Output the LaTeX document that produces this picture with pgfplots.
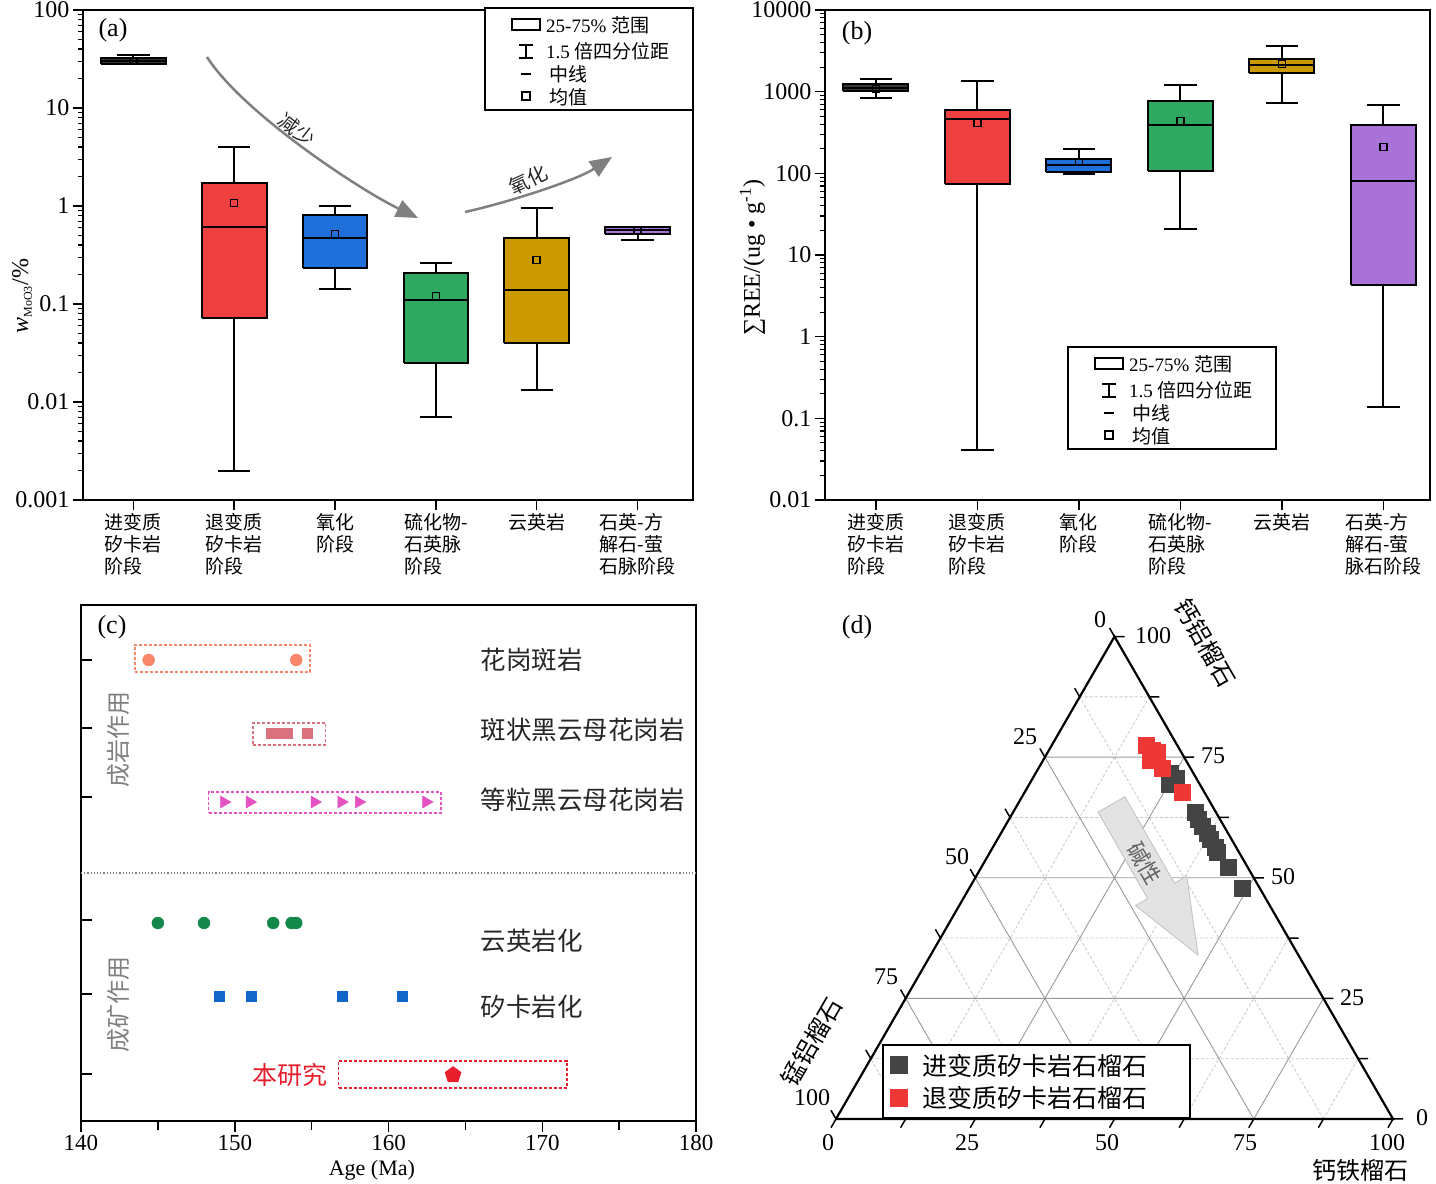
\documentclass[border=0pt]{standalone}
\usepackage{fontspec}
\setmainfont{Liberation Serif}
\newfontfamily\cjk{Noto Sans CJK SC}
\usepackage{pgfplots}
\pgfplotsset{compat=1.18}
\usepackage{pgfplotstable}
\usetikzlibrary{arrows.meta}

\definecolor{cBlack}{HTML}{383838}
\definecolor{cRed}{HTML}{EF4040}
\definecolor{cBlue}{HTML}{1F6FDB}
\definecolor{cGreen}{HTML}{2FA862}
\definecolor{cGold}{HTML}{CC9A00}
\definecolor{cPurple}{HTML}{A872D8}
\definecolor{cCoral}{HTML}{F9866A}
\definecolor{cPink}{HTML}{D9717F}
\definecolor{cMag}{HTML}{E552C2}
\definecolor{cDGreen}{HTML}{13884A}
\definecolor{cDBlue}{HTML}{1266C8}
\definecolor{cPRed}{HTML}{E81E2C}
\definecolor{cDark}{HTML}{444444}
\definecolor{cTRed}{HTML}{EE3838}
\definecolor{cArrow}{HTML}{808080}

\pgfplotsset{/pgf/number format/assume math mode=true}

\newcommand{\bxp}[8]{%
  \pgfmathsetmacro\bxl{#1-0.32}\pgfmathsetmacro\bxr{#1+0.32}%
  \pgfmathsetmacro\bcl{#1-0.16}\pgfmathsetmacro\bcr{#1+0.16}%
  \addplot[forget plot, black, line width=2pt] coordinates {(#1,#2) (#1,#3)};
  \addplot[forget plot, black, line width=2pt] coordinates {(#1,#5) (#1,#6)};
  \addplot[forget plot, black, line width=2pt] coordinates {(\bcl,#2) (\bcr,#2)};
  \addplot[forget plot, black, line width=2pt] coordinates {(\bcl,#6) (\bcr,#6)};
  \addplot[forget plot, draw=black, fill=#8, line width=2pt, line join=miter] coordinates {(\bxl,#3) (\bxr,#3) (\bxr,#5) (\bxl,#5) (\bxl,#3)};
  \addplot[forget plot, black, line width=2pt] coordinates {(\bxl,#4) (\bxr,#4)};
  \addplot[forget plot, only marks, mark=square, mark size=3.5pt, mark options={line width=1.5pt, draw=black}] coordinates {(#1,#7)};
}

\pgfplotstableread{
A G
24.1 71.7
25.7 70.7
25.1 69.4
32.7 63.6
33.9 62.2
35.4 60.7
37.0 59.3
38.1 58.0
39.8 56.4
40.8 55.3
44.3 52.2
48.9 47.9
}\blackpts

\pgfplotstableread{
A G
16.9 77.5
18.5 76.5
19.6 76.1
19.2 74.4
22.1 72.8
28.2 67.8
}\redpts

\begin{document}
\begin{tikzpicture}
\useasboundingbox (0pt,0pt) rectangle (1436pt,1184pt);

% ---------------- (a) ----------------
\begin{axis}[at={(83pt,684pt)}, anchor=south west, width=610pt, height=490pt,
  scale only axis, ymode=log, xmin=0.5, xmax=6.55, ymin=0.001, ymax=100,
  xtick={1,2,3,4,5,6},
  xtick pos=bottom, ytick pos=left, tick align=outside,
  major tick length=10pt, minor tick length=5pt,
  tick style={black,line width=1.5pt}, minor tick style={line width=1.1pt},
  axis line style={line width=2pt},
  xticklabel style={font=\cjk\fontsize{19}{22}\selectfont, align=left, anchor=north},
  yticklabel style={font=\fontsize{24}{24}\selectfont},
  xticklabels={进变质\\矽卡岩\\阶段, 退变质\\矽卡岩\\阶段, 氧化\\阶段, 硫化物-\\石英脉\\阶段, 云英岩, 石英-方\\解石-萤\\石脉阶段},
  ytick={0.001,0.01,0.1,1,10,100}, yticklabels={0.001,0.01,0.1,1,10,100},
  minor ytick={0.002,0.003,0.004,0.005,0.006,0.007,0.008,0.009,0.02,0.03,0.04,0.05,0.06,0.07,0.08,0.09,0.2,0.3,0.4,0.5,0.6,0.7,0.8,0.9,2,3,4,5,6,7,8,9,20,30,40,50,60,70,80,90},
  ylabel={\textit{w}\textsubscript{\fontsize{12}{12}\selectfont MoO3}/\%},
  ylabel style={font=\fontsize{24}{24}\selectfont, at={(axis description cs:-0.1,0.416)}, anchor=center},
]
\bxp{1}{27.9}{27.9}{30}{32.1}{34.8}{30}{cBlack}
\bxp{2}{0.002}{0.072}{0.61}{1.72}{4.0}{1.07}{cRed}
\bxp{3}{0.142}{0.233}{0.47}{0.81}{1.0}{0.52}{cBlue}
\bxp{4}{0.007}{0.025}{0.11}{0.207}{0.262}{0.121}{cGreen}
\bxp{5}{0.0132}{0.04}{0.139}{0.47}{0.955}{0.28}{cGold}
\bxp{6}{0.45}{0.518}{0.57}{0.615}{0.615}{0.56}{cPurple}
\end{axis}

% ---------------- (b) ----------------
\begin{axis}[at={(825pt,684pt)}, anchor=south west, width=605pt, height=490pt,
  scale only axis, ymode=log, xmin=0.5, xmax=6.46, ymin=0.01, ymax=10000,
  xtick={1,2,3,4,5,6},
  xtick pos=bottom, ytick pos=left, tick align=outside,
  major tick length=10pt, minor tick length=5pt,
  tick style={black,line width=1.5pt}, minor tick style={line width=1.1pt},
  axis line style={line width=2pt},
  xticklabel style={font=\cjk\fontsize{19}{22}\selectfont, align=left, anchor=north},
  yticklabel style={font=\fontsize{24}{24}\selectfont},
  xticklabels={进变质\\矽卡岩\\阶段, 退变质\\矽卡岩\\阶段, 氧化\\阶段, 硫化物-\\石英脉\\阶段, 云英岩, 石英-方\\解石-萤\\脉石阶段},
  ytick={0.01,0.1,1,10,100,1000,10000}, yticklabels={0.01,0.1,1,10,100,1000,10000},
  minor ytick={0.02,0.03,0.04,0.05,0.06,0.07,0.08,0.09,0.2,0.3,0.4,0.5,0.6,0.7,0.8,0.9,2,3,4,5,6,7,8,9,20,30,40,50,60,70,80,90,200,300,400,500,600,700,800,900,2000,3000,4000,5000,6000,7000,8000,9000},
  ylabel={∑REE/(ug • g\textsuperscript{-1})},
  ylabel style={font=\fontsize{24}{24}\selectfont, at={(axis description cs:-0.12,0.494)}, anchor=center},
]
\bxp{1}{836}{1020}{1100}{1240}{1430}{1100}{cBlack}
\bxp{2}{0.041}{74}{463}{597}{1350}{413}{cRed}
\bxp{3}{97}{104}{125}{150}{199}{138}{cBlue}
\bxp{4}{20.8}{107}{391}{769}{1208}{437}{cGreen}
\bxp{5}{726}{1693}{2150}{2512}{3620}{2180}{cGold}
\bxp{6}{0.138}{4.3}{80.5}{391}{687}{210}{cPurple}
\end{axis}

% ---------------- (c) ----------------
\begin{axis}[at={(81pt,63pt)}, anchor=south west, scale only axis, width=615pt, height=516pt,
  xmin=140, xmax=180, ymin=0, ymax=516,
  xtick={140,150,160,170,180}, minor xtick={145,155,165,175},
  ytick={461,393,324,201,127,47}, yticklabels={,,,,,},
  xtick pos=bottom, ytick pos=left, xtick align=outside, ytick align=inside,
  major tick length=11pt, minor tick length=9pt,
  tick style={black,line width=1.5pt},
  axis line style={line width=2pt},
  xticklabel style={font=\fontsize{23}{23}\selectfont},
  xlabel={Age (Ma)},
  xlabel style={font=\fontsize{22}{22}\selectfont, at={(axis description cs:0.473,-0.07)}, anchor=north},
  clip=false,
]
\addplot[forget plot, draw=cCoral, line width=1.5pt, dash pattern=on 3pt off 2pt] coordinates {(143.5,449) (154.9,449) (154.9,476) (143.5,476) (143.5,449)};
\addplot[forget plot, draw=cPink, line width=1.5pt, dash pattern=on 3pt off 2pt] coordinates {(151.2,376) (155.9,376) (155.9,398) (151.2,398) (151.2,376)};
\addplot[forget plot, draw=cMag, line width=1.5pt, dash pattern=on 3pt off 2pt] coordinates {(148.3,308) (163.4,308) (163.4,329) (148.3,329) (148.3,308)};
\addplot[forget plot, draw=cPRed, line width=1.5pt, dash pattern=on 3pt off 2pt] coordinates {(156.75,33) (171.6,33) (171.6,60) (156.75,60) (156.75,33)};
\addplot[forget plot, draw=gray, line width=1.2pt, dotted] coordinates {(140,248) (180,248)};
\addplot[forget plot, only marks, mark=*, mark size=6pt, color=cCoral] coordinates {(144.4,461) (154.0,461)};
\addplot[forget plot, only marks, mark=square*, mark size=5pt, color=cPink] coordinates {(152.4,388) (152.75,388) (153.1,388) (153.4,388) (154.7,388)};
\addplot[forget plot, only marks, mark=triangle*, mark size=7pt, color=cMag, mark options={rotate=-90}] coordinates {(149.3,319) (150.97,319) (155.19,319) (156.93,319) (158.07,319) (162.45,319)};
\addplot[forget plot, only marks, mark=*, mark size=6pt, color=cDGreen] coordinates {(145.0,198) (148.0,198) (152.5,198) (153.7,198) (154.0,198)};
\addplot[forget plot, only marks, mark=square*, mark size=5pt, color=cDBlue] coordinates {(149.0,125) (151.1,125) (157.0,125) (160.9,125)};
\addplot[forget plot, only marks, mark=pentagon*, mark size=8.5pt, color=cPRed] coordinates {(164.2,46)};
\end{axis}

% ---------------- (d) ----------------
\begin{axis}[at={(836pt,65pt)}, anchor=south west, scale only axis, width=557pt, height=482.4pt,
  xmin=0, xmax=100, ymin=0, ymax=86.6025, hide axis, clip=false,
  unbounded coords=jump,
  legend cell align=left,
  legend style={at={(0.0826,0)}, anchor=south west, draw=black, line width=1.5pt, fill=white,
    font=\cjk\fontsize{25}{28}\selectfont, inner xsep=8pt, inner ysep=7pt, row sep=6pt},
]
\addplot[forget plot, draw=black!22, line width=0.8pt, dash pattern=on 3pt off 2pt] coordinates {
 (6.25,10.825) (93.75,10.825) (nan,nan)
 (18.75,32.476) (81.25,32.476) (nan,nan)
 (31.25,54.127) (68.75,54.127) (nan,nan)
 (43.75,75.777) (56.25,75.777) (nan,nan)
 (12.5,0) (56.25,75.777) (nan,nan)
 (37.5,0) (68.75,54.127) (nan,nan)
 (62.5,0) (81.25,32.476) (nan,nan)
 (87.5,0) (93.75,10.825) (nan,nan)
 (87.5,0) (43.75,75.777) (nan,nan)
 (62.5,0) (31.25,54.127) (nan,nan)
 (37.5,0) (18.75,32.476) (nan,nan)
 (12.5,0) (6.25,10.825)
};
\addplot[forget plot, draw=black!40, line width=0.9pt] coordinates {
 (12.5,21.651) (87.5,21.651) (nan,nan)
 (25,43.301) (75,43.301) (nan,nan)
 (37.5,64.952) (62.5,64.952) (nan,nan)
 (25,0) (62.5,64.952) (nan,nan)
 (50,0) (75,43.301) (nan,nan)
 (75,0) (87.5,21.651) (nan,nan)
 (75,0) (37.5,64.952) (nan,nan)
 (50,0) (25,43.301) (nan,nan)
 (25,0) (12.5,21.651)
};
\addplot[forget plot, draw=black, line width=2.2pt, line join=miter] coordinates {(0,0) (100,0) (50,86.6025) (0,0)};
\addplot[forget plot, draw=black, line width=1.5pt] coordinates {
 (0,0) (-0.9,-1.56) (nan,nan) (12.5,0) (11.6,-1.56) (nan,nan) (25,0) (24.1,-1.56) (nan,nan)
 (37.5,0) (36.6,-1.56) (nan,nan) (50,0) (49.1,-1.56) (nan,nan) (62.5,0) (61.6,-1.56) (nan,nan)
 (75,0) (74.1,-1.56) (nan,nan) (87.5,0) (86.6,-1.56) (nan,nan) (100,0) (99.1,-1.56) (nan,nan)
 (100,0) (101.8,0) (nan,nan) (93.75,10.825) (95.55,10.825) (nan,nan) (87.5,21.651) (89.3,21.651) (nan,nan)
 (81.25,32.476) (83.05,32.476) (nan,nan) (75,43.301) (76.8,43.301) (nan,nan) (68.75,54.127) (70.55,54.127) (nan,nan)
 (62.5,64.952) (64.3,64.952) (nan,nan) (56.25,75.777) (58.05,75.777) (nan,nan) (50,86.603) (51.8,86.603) (nan,nan)
 (50,86.603) (49.1,88.16) (nan,nan) (43.75,75.777) (42.85,77.34) (nan,nan) (37.5,64.952) (36.6,66.51) (nan,nan)
 (31.25,54.127) (30.35,55.69) (nan,nan) (25,43.301) (24.1,44.86) (nan,nan) (18.75,32.476) (17.85,34.04) (nan,nan)
 (12.5,21.651) (11.6,23.21) (nan,nan) (6.25,10.825) (5.35,12.39) (nan,nan) (0,0) (-0.9,1.56)
};
\addplot[only marks, mark=square*, mark size=8pt, color=cDark] table[x expr=\thisrow{A}+0.5*\thisrow{G}, y expr=0.8660254*\thisrow{G}] {\blackpts};
\addlegendentry{\hspace*{14pt}进变质矽卡岩石榴石\hspace*{32pt}}
\addplot[only marks, mark=square*, mark size=8pt, color=cTRed] table[x expr=\thisrow{A}+0.5*\thisrow{G}, y expr=0.8660254*\thisrow{G}] {\redpts};
\addlegendentry{\hspace*{14pt}退变质矽卡岩石榴石\hspace*{32pt}}
\end{axis}

% ---------------- annotations ----------------
\begin{scope}[x=1pt,y=1pt]
\foreach \lx/\ly in {485/1176, 1068/837} {
  \begin{scope}[shift={(\lx,\ly)}]
  \draw[line width=2pt, fill=white] (0,0) rectangle (208,-102);
  \draw[line width=2pt] (27,-11) rectangle (55,-22);
  \draw[line width=2pt] (34,-37) -- (48,-37) (41,-37) -- (41,-50) (34,-50) -- (48,-50);
  \draw[line width=2pt] (36,-66) -- (46,-66);
  \draw[line width=1.8pt] (37,-84) rectangle (45,-92);
  \node[anchor=west, font=\fontsize{19}{19}\selectfont, inner sep=0pt] at (61,-17) {25-75\% {\cjk 范围}};
  \node[anchor=west, font=\fontsize{19}{19}\selectfont, inner sep=0pt] at (61,-43) {1.5 {\cjk 倍四分位距}};
  \node[anchor=west, font=\cjk\fontsize{19}{19}\selectfont, inner sep=0pt] at (64,-66) {中线};
  \node[anchor=west, font=\cjk\fontsize{19}{19}\selectfont, inner sep=0pt] at (64,-89) {均值};
  \end{scope}
}

\node[font=\fontsize{26}{26}\selectfont] at (113,1154) {(a)};
\node[font=\fontsize{26}{26}\selectfont] at (857,1151) {(b)};
\node[font=\fontsize{26}{26}\selectfont] at (112,557) {(c)};
\node[font=\fontsize{26}{26}\selectfont] at (857,557) {(d)};

\draw[line width=2.5pt, cArrow, -{Triangle[length=22pt,width=18pt]}] (207,1127) .. controls (242,1072) and (358,995) .. (418,966);
\draw[line width=2.5pt, cArrow, -{Triangle[length=22pt,width=18pt]}] (465,972) .. controls (510,982) and (577,1004) .. (612,1027);
\node[font=\cjk\fontsize{20}{20}\selectfont, rotate=-38, text=black!85] at (297,1054) {减少};
\node[font=\cjk\fontsize{20}{20}\selectfont, rotate=25, text=black!85] at (528,1004) {氧化};

\begin{scope}[every node/.style={font=\cjk\fontsize{25.5}{25.5}\selectfont, text=black!85, anchor=west}]
\node at (477,524) {花岗斑岩};
\node at (477,454) {斑状黑云母花岗岩};
\node at (477,384) {等粒黑云母花岗岩};
\node at (477,243) {云英岩化};
\node at (477,177) {矽卡岩化};
\end{scope}
\node[font=\cjk\fontsize{25}{25}\selectfont, text=cPRed, anchor=east] at (331,109) {本研究};
\node[font=\cjk\fontsize{24}{24}\selectfont, text=black!50, rotate=90] at (118,444) {成岩作用};
\node[font=\cjk\fontsize{24}{24}\selectfont, text=black!50, rotate=90] at (118,179) {成矿作用};

\filldraw[fill=black!11, draw=black!22, line width=1pt, line join=miter]
  (1124.9,387.2) -- (1174.5,300.8) -- (1186.7,307.8) -- (1198,229) -- (1135.5,278.4) -- (1147.7,285.4) -- (1098.1,371.8) -- cycle;
\node[font=\cjk\fontsize{22}{22}\selectfont, text=black!62, rotate=-60] at (1145,321) {碱性};

\begin{scope}[every node/.style={font=\fontsize{24}{24}\selectfont}]
\node at (828,41) {0};
\node at (967,41) {25};
\node at (1107,41) {50};
\node at (1245,41) {75};
\node at (1387,41) {100};
\node at (1422,66) {0};
\node at (1352,186) {25};
\node at (1283,307) {50};
\node at (1213,428) {75};
\node at (1153,548) {100};
\node at (1100,564) {0};
\node at (1025,447) {25};
\node at (957,327) {50};
\node at (886,207) {75};
\node at (812,86) {100};
\end{scope}
\node[font=\cjk\fontsize{24}{24}\selectfont, rotate=-60] at (1205,541) {钙铝榴石};
\node[font=\cjk\fontsize{24}{24}\selectfont, rotate=60] at (812,142) {锰铝榴石};
\node[font=\cjk\fontsize{24}{24}\selectfont] at (1360,14) {钙铁榴石};
\end{scope}
\end{tikzpicture}
\end{document}
